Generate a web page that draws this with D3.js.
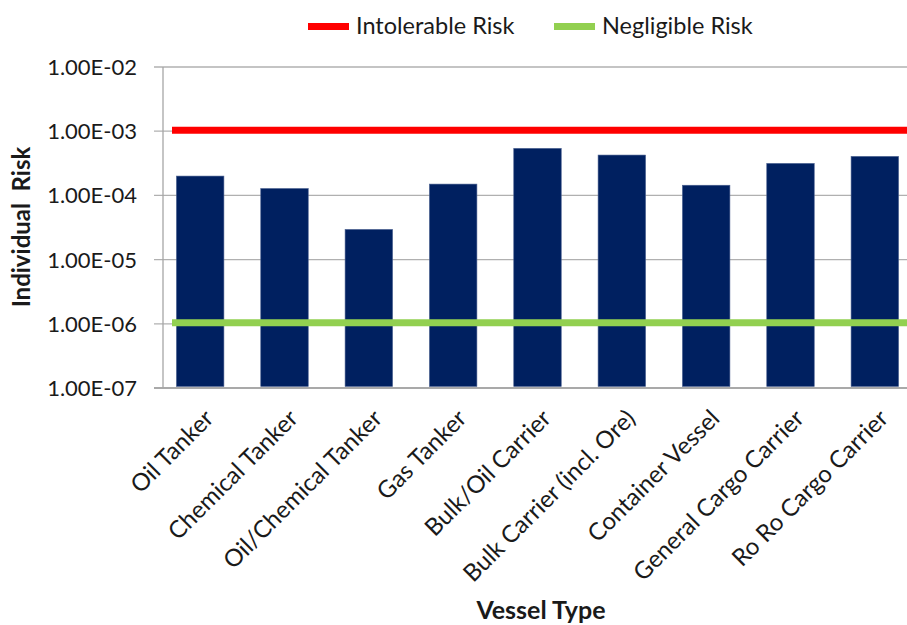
<!DOCTYPE html>
<html lang="en">
<head>
  <meta charset="UTF-8">
  <title>Individual Risk by Vessel Type</title>
  <script src="https://d3js.org/d3.v7.min.js"></script>
  <style>
    body { margin: 0; background: #fff; }
    text { font-family: Lato, "Liberation Sans", sans-serif; fill: #1a1a1a; }
  </style>
</head>
<body>
  <svg id="chart" width="907" height="625"></svg>
  <script>
    // data
    const vesselTypes = ["Oil Tanker", "Chemical Tanker", "Oil/Chemical Tanker", "Gas Tanker",
      "Bulk/Oil Carrier", "Bulk Carrier (incl. Ore)", "Container Vessel",
      "General Cargo Carrier", "Ro Ro Cargo Carrier"];
    const individualRisk = [2.0e-4, 1.28e-4, 2.95e-5, 1.5e-4, 5.4e-4, 4.25e-4, 1.44e-4, 3.15e-4, 4.05e-4];
    const riskLimits = [
      { name: "Intolerable Risk", value: 1e-3, color: "#ff0000" },
      { name: "Negligible Risk", value: 1e-6, color: "#92d050" }
    ];
    const yTicks = [1e-2, 1e-3, 1e-4, 1e-5, 1e-6, 1e-7];

    const svg = d3.select("svg#chart");

    const plotLeft = 163, plotRight = 907, plotTop = 67, plotBottom = 388;

    const y = d3.scaleLog()
      .domain([1e-7, 1e-2])
      .range([plotBottom, plotTop]);

    // category bands (right side runs past the window edge, like the original)
    const x = d3.scaleBand()
      .domain(vesselTypes)
      .range([158, 917])
      .paddingInner(0.437)
      .paddingOuter(0.2185);

    // gridlines + tick marks
    svg.append("g")
      .selectAll("line")
      .data(yTicks)
      .join("line")
      .attr("x1", plotLeft - 9)
      .attr("x2", plotRight)
      .attr("y1", d => y(d))
      .attr("y2", d => y(d))
      .attr("stroke", d => d === 1e-7 ? "#8c8c8c" : "#b0b0b0")
      .attr("stroke-width", 1.3);

    // y-axis line
    svg.append("line")
      .attr("x1", plotLeft).attr("x2", plotLeft)
      .attr("y1", plotTop).attr("y2", plotBottom)
      .attr("stroke", "#a6a6a6")
      .attr("stroke-width", 1.3);

    // y tick labels
    svg.append("g")
      .selectAll("text")
      .data(yTicks)
      .join("text")
      .attr("x", 137)
      .attr("y", d => y(d))
      .attr("dy", "0.36em")
      .attr("text-anchor", "end")
      .style("font-size", "22px")
      .text(d => d.toExponential(2).toUpperCase().replace(/E-(\d)$/, "E-0$1"));

    // bars
    svg.append("g")
      .selectAll("rect")
      .data(vesselTypes)
      .join("rect")
      .attr("x", d => x(d))
      .attr("width", x.bandwidth())
      .attr("y", (d, i) => y(individualRisk[i]))
      .attr("height", (d, i) => y(1e-7) - 1.5 - y(individualRisk[i]))
      .attr("fill", "#002060")
      .attr("stroke", "#4a6090")
      .attr("stroke-width", 0.6);

    // risk limit lines
    svg.append("g")
      .selectAll("line")
      .data(riskLimits)
      .join("line")
      .attr("x1", plotLeft + 9)
      .attr("x2", plotRight)
      .attr("y1", d => y(d.value) - 1)
      .attr("y2", d => y(d.value) - 1)
      .attr("stroke", d => d.color)
      .attr("stroke-width", 7);

    // x tick labels, rotated
    svg.append("g")
      .selectAll("text")
      .data(vesselTypes)
      .join("text")
      .attr("transform", d => "translate(" + (x(d) + x.bandwidth() / 2 + 3) + ",408)rotate(-45)")
      .attr("text-anchor", "end")
      .attr("dy", "0.7em")
      .style("font-size", "24px")
      .text(d => d);

    // axis titles
    svg.append("text")
      .attr("transform", "translate(30,227)rotate(-90)")
      .attr("text-anchor", "middle")
      .style("font-size", "24px")
      .style("font-weight", "bold")
      .style("white-space", "pre")
      .text("Individual  Risk");

    svg.append("text")
      .attr("x", 541)
      .attr("y", 619)
      .attr("text-anchor", "middle")
      .style("font-size", "25px")
      .style("font-weight", "bold")
      .text("Vessel Type");

    // legend
    const legendX = [308, 554];
    const legend = svg.append("g")
      .selectAll("g")
      .data(riskLimits)
      .join("g")
      .attr("transform", (d, i) => "translate(" + legendX[i] + ",0)");
    legend.append("rect")
      .attr("y", 23)
      .attr("width", 41)
      .attr("height", 7)
      .attr("fill", d => d.color);
    legend.append("text")
      .attr("x", 48)
      .attr("y", 34)
      .style("font-size", "23.5px")
      .text(d => d.name);
  </script>
</body>
</html>
